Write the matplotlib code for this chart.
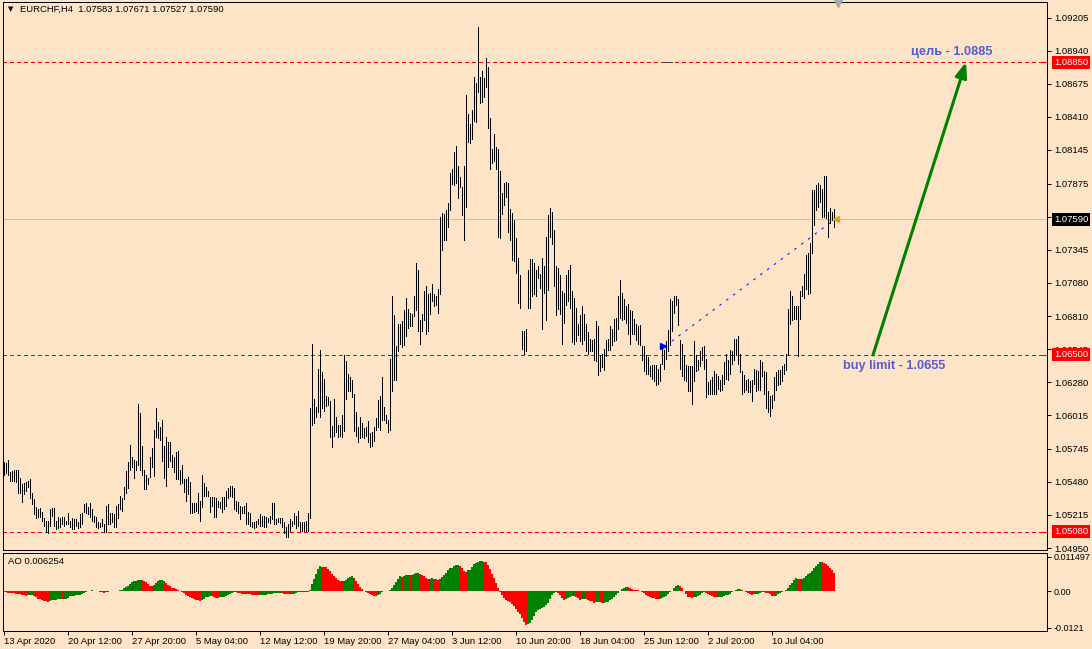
import numpy as np
import pandas as pd
import matplotlib
matplotlib.use('Agg')
import matplotlib.pyplot as plt
import matplotlib.transforms as mtransforms

plt.rcParams['font.family'] = ['Liberation Sans', 'DejaVu Sans']

symbol_line = 'EURCHF,H4  1.07583 1.07671 1.07527 1.07590'
ao_caption = 'AO 0.006254'

# H4 bar highs / lows in pips (price * 10000)
high_pips = [
    10564, 10563, 10566, 10556, 10557, 10558, 10558, 10558, 10551, 10546,
    10547, 10548, 10549, 10550, 10539, 10534, 10528, 10526, 10527, 10524,
    10519, 10517, 10517, 10526, 10527, 10527, 10517, 10520, 10519, 10520,
    10520, 10517, 10523, 10517, 10519, 10518, 10518, 10516, 10522, 10523,
    10530, 10531, 10528, 10531, 10526, 10521, 10520, 10516, 10515, 10518,
    10514, 10529, 10530, 10523, 10523, 10522, 10529, 10530, 10537, 10535,
    10544, 10557, 10564, 10578, 10568, 10566, 10565, 10611, 10603, 10577,
    10558, 10554, 10551, 10568, 10575, 10590, 10607, 10596, 10592, 10598,
    10577, 10584, 10580, 10580, 10570, 10568, 10572, 10573, 10558, 10562,
    10550, 10550, 10552, 10548, 10531, 10531, 10531, 10539, 10533, 10554,
    10547, 10544, 10541, 10536, 10536, 10536, 10535, 10533, 10532, 10536,
    10536, 10541, 10543, 10545, 10545, 10543, 10533, 10532, 10529, 10528,
    10529, 10531, 10524, 10523, 10516, 10516, 10517, 10518, 10522, 10521,
    10521, 10520, 10519, 10521, 10531, 10531, 10518, 10519, 10519, 10519,
    10516, 10512, 10514, 10518, 10517, 10523, 10521, 10525, 10516, 10516,
    10516, 10517, 10523, 10607, 10659, 10615, 10608, 10639, 10654, 10636,
    10631, 10617, 10616, 10613, 10593, 10615, 10600, 10594, 10594, 10602,
    10650, 10645, 10635, 10632, 10630, 10619, 10604, 10592, 10600, 10595,
    10591, 10592, 10597, 10587, 10588, 10592, 10599, 10614, 10617, 10632,
    10608, 10602, 10598, 10647, 10697, 10682, 10657, 10675, 10675, 10677,
    10686, 10696, 10687, 10684, 10683, 10697, 10724, 10718, 10678, 10683,
    10701, 10705, 10699, 10700, 10707, 10699, 10697, 10703, 10761, 10764,
    10763, 10766, 10772, 10796, 10799, 10813, 10818, 10802, 10793, 10785,
    10802, 10859, 10843, 10835, 10847, 10873, 10868, 10913, 10873, 10878,
    10872, 10888, 10881, 10840, 10815, 10827, 10817, 10815, 10798, 10780,
    10788, 10789, 10788, 10767, 10764, 10758, 10744, 10728, 10714, 10669,
    10669, 10671, 10718, 10727, 10727, 10724, 10718, 10721, 10715, 10728,
    10721, 10745, 10762, 10768, 10765, 10750, 10721, 10720, 10714, 10701,
    10700, 10714, 10718, 10722, 10701, 10696, 10688, 10675, 10682, 10689,
    10683, 10675, 10668, 10663, 10662, 10663, 10677, 10673, 10650, 10651,
    10655, 10662, 10663, 10673, 10671, 10679, 10680, 10697, 10710, 10700,
    10695, 10689, 10691, 10686, 10685, 10679, 10675, 10673, 10674, 10657,
    10657, 10650, 10648, 10641, 10642, 10642, 10642, 10639, 10643, 10657,
    10654, 10661, 10670, 10695, 10693, 10697, 10697, 10695, 10662, 10659,
    10650, 10642, 10641, 10641, 10641, 10661, 10650, 10646, 10653, 10656,
    10657, 10647, 10628, 10630, 10632, 10637, 10635, 10633, 10630, 10634,
    10644, 10651, 10646, 10654, 10653, 10663, 10663, 10665, 10651, 10637,
    10634, 10630, 10631, 10629, 10630, 10639, 10638, 10637, 10646, 10644,
    10637, 10636, 10621, 10617, 10618, 10632, 10636, 10638, 10638, 10641,
    10643, 10651, 10687, 10701, 10697, 10689, 10689, 10689, 10701, 10705,
    10715, 10730, 10732, 10740, 10782, 10782, 10786, 10788, 10786, 10783,
    10794, 10794, 10765, 10768, 10765, 10767,
]
low_pips = [
    10554, 10555, 10554, 10549, 10549, 10549, 10548, 10539, 10539, 10532,
    10538, 10541, 10544, 10535, 10530, 10522, 10519, 10520, 10520, 10517,
    10513, 10508, 10507, 10513, 10521, 10513, 10510, 10511, 10512, 10514,
    10513, 10514, 10514, 10512, 10510, 10510, 10513, 10511, 10512, 10514,
    10524, 10523, 10522, 10520, 10517, 10516, 10512, 10511, 10512, 10513,
    10508, 10508, 10514, 10514, 10516, 10512, 10512, 10519, 10526, 10525,
    10534, 10539, 10543, 10558, 10560, 10551, 10558, 10562, 10558, 10554,
    10542, 10542, 10546, 10552, 10560, 10553, 10584, 10583, 10582, 10565,
    10551, 10545, 10560, 10565, 10560, 10556, 10550, 10550, 10546, 10547,
    10540, 10533, 10538, 10523, 10523, 10524, 10525, 10523, 10517, 10528,
    10537, 10537, 10537, 10524, 10529, 10520, 10520, 10528, 10527, 10524,
    10526, 10529, 10535, 10537, 10536, 10526, 10525, 10523, 10518, 10523,
    10523, 10514, 10514, 10513, 10512, 10511, 10512, 10514, 10513, 10513,
    10512, 10512, 10516, 10515, 10518, 10514, 10514, 10516, 10515, 10512,
    10507, 10504, 10504, 10509, 10513, 10514, 10511, 10513, 10509, 10509,
    10509, 10509, 10509, 10519, 10594, 10595, 10600, 10604, 10600, 10607,
    10605, 10609, 10610, 10584, 10576, 10585, 10588, 10584, 10585, 10584,
    10589, 10615, 10621, 10621, 10616, 10589, 10585, 10580, 10583, 10584,
    10583, 10585, 10580, 10576, 10577, 10581, 10590, 10592, 10590, 10598,
    10598, 10595, 10588, 10590, 10621, 10630, 10630, 10653, 10659, 10656,
    10658, 10665, 10672, 10673, 10673, 10681, 10686, 10669, 10659, 10669,
    10678, 10667, 10669, 10683, 10693, 10689, 10690, 10684, 10699, 10734,
    10742, 10742, 10753, 10766, 10787, 10786, 10788, 10776, 10785, 10762,
    10742, 10769, 10821, 10820, 10823, 10838, 10837, 10861, 10852, 10853,
    10857, 10865, 10832, 10799, 10804, 10806, 10799, 10745, 10744, 10763,
    10770, 10777, 10749, 10742, 10726, 10725, 10716, 10692, 10688, 10655,
    10651, 10653, 10688, 10688, 10697, 10699, 10697, 10712, 10704, 10671,
    10700, 10678, 10702, 10745, 10739, 10705, 10682, 10687, 10683, 10659,
    10676, 10690, 10693, 10688, 10660, 10659, 10661, 10666, 10661, 10659,
    10662, 10653, 10651, 10653, 10653, 10646, 10645, 10634, 10637, 10640,
    10638, 10649, 10654, 10654, 10658, 10661, 10662, 10671, 10680, 10678,
    10679, 10676, 10667, 10659, 10667, 10667, 10662, 10659, 10658, 10646,
    10637, 10635, 10635, 10633, 10631, 10629, 10626, 10627, 10629, 10643,
    10639, 10647, 10653, 10658, 10669, 10684, 10690, 10674, 10639, 10633,
    10630, 10629, 10621, 10621, 10611, 10629, 10637, 10638, 10641, 10646,
    10639, 10616, 10619, 10619, 10619, 10619, 10619, 10623, 10621, 10622,
    10627, 10631, 10630, 10635, 10643, 10646, 10650, 10643, 10636, 10619,
    10620, 10622, 10620, 10620, 10613, 10627, 10621, 10622, 10622, 10633,
    10619, 10607, 10604, 10601, 10607, 10614, 10622, 10626, 10627, 10629,
    10635, 10638, 10650, 10675, 10678, 10679, 10679, 10649, 10679, 10697,
    10696, 10703, 10699, 10700, 10732, 10754, 10766, 10769, 10773, 10761,
    10761, 10760, 10745, 10756, 10758, 10753,
]
# AO of the first 33 bars (their 34-bar history lies left of the window)
ao_first = [
    -0.0003, -0.0003, -0.0004, -0.0005, -0.0006, -0.0007, -0.0008, -0.0009, -0.0010, -0.0011,
    -0.0012, -0.0014, -0.00135, -0.0013, -0.00125, -0.0016, -0.0020, -0.0024, -0.0027, -0.0029,
    -0.0031, -0.0033, -0.0035, -0.0033, -0.0030, -0.0029, -0.0028, -0.0027, -0.0026, -0.0027,
    -0.0025, -0.0024, -0.0023,
]

date_ticks = [0, 32, 64, 96, 128, 160, 192, 224, 256, 288, 320, 352, 384]
date_labels = ['13 Apr 2020', '20 Apr 12:00', '27 Apr 20:00', '5 May 04:00', '12 May 12:00',
               '19 May 20:00', '27 May 04:00', '3 Jun 12:00', '10 Jun 20:00', '18 Jun 04:00',
               '25 Jun 12:00', '2 Jul 20:00', '10 Jul 04:00']
price_ticks = [1.09205, 1.08940, 1.08675, 1.08410, 1.08145, 1.07875, 1.07610, 1.07345, 1.07080,
               1.06810, 1.06545, 1.06280, 1.06015, 1.05745, 1.05480, 1.05215, 1.04950]
ao_ticks = [0.011497, 0.0, -0.0121]
ao_tick_labels = ['0.011497', '0.00', '-0.0121']

target_level = 1.0885
buy_level = 1.0650
support_level = 1.0508
bid_level = 1.0759
trend_x = [330.5, 413]
trend_y = [1.0657, 1.0756]
arrow_x = [434.5, 481]
arrow_y = [1.0650, 1.0885]

bg = '#FEE4C6'
W, H = 1092, 649
PX = 0.72  # one pixel in points at dpi 100

hi = np.array(high_pips) / 10000
lo = np.array(low_pips) / 10000
n = min(len(hi), len(lo))
hi, lo = hi[:n], lo[:n]
x = np.arange(n)

# Awesome Oscillator: SMA5 - SMA34 of median price
med = pd.Series((hi + lo) / 2)
ao = (med.rolling(5).mean() - med.rolling(34).mean()).to_numpy()
ao[:len(ao_first)] = ao_first
colors = ['#FF0000'] + ['#008000' if ao[i] > ao[i - 1] else '#FF0000' for i in range(1, n)]

fig = plt.figure(figsize=(W / 100, H / 100), dpi=100, facecolor=bg)

# price window
ax = fig.add_axes([2.5 / W, 1 - 550 / H, 1044.5 / W, 548 / H], facecolor=bg)
ax.vlines(x, lo, hi, colors='black', linewidth=PX, antialiased=False, zorder=3)
ax.set_xlim(-0.75, 521.5)
ax.set_ylim(1.04934, 1.09333)

ax.axhline(bid_level, color='#C0C0C0', lw=PX, zorder=1, antialiased=False)
for lv in [target_level, buy_level, support_level]:
    ax.axhline(lv, color='#FF0000', lw=PX, ls=(0, (4, 4)), zorder=2, antialiased=False)
ax.plot([330, 334], [target_level, target_level], color='#404040', lw=PX, zorder=2,
        antialiased=False)

ax.plot(trend_x, trend_y, color='#0000FF', lw=PX, ls=(0, (2.5, 6)), zorder=4)
ax.plot(trend_x[0] - 1, trend_y[0], marker='>', color='#0000FF', ms=4, zorder=5)
ax.plot(416, bid_level, marker='<', color='#DAA520', ms=4, zorder=5, clip_on=False)
ax.plot(417, 1.0933, marker='v', color='#A8A8A8', ms=7, zorder=5, clip_on=False)

ax.annotate('', xy=(arrow_x[1], arrow_y[1]), xytext=(arrow_x[0], arrow_y[0]),
            arrowprops=dict(arrowstyle='-|>,head_length=0.9,head_width=0.35', color='#008000',
                            lw=2.2, shrinkA=0, shrinkB=0))
ax.text(474, 1.0893, 'цель - 1.0885', color='#5A5AD2', fontsize=9.2, fontweight='bold',
        ha='center', va='center')
ax.text(419.5, 1.0641, 'buy limit - 1.0655', color='#5A5AD2', fontsize=9.2, fontweight='bold',
        ha='left', va='center')

ax.yaxis.tick_right()
ax.set_yticks(price_ticks)
ax.set_yticklabels([f'{t:.5f}' for t in price_ticks])
ax.tick_params(axis='y', length=3, width=PX, pad=2.5, labelsize=6.8)
ax.set_xticks([])
for s in ax.spines.values():
    s.set_linewidth(PX)

trans = mtransforms.blended_transform_factory(ax.transAxes, ax.transData)
for lv, fc in [(target_level, '#FF0000'), (buy_level, '#FF0000'),
               (support_level, '#FF0000'), (bid_level, '#000000')]:
    ax.text(1.0065, lv, f'{lv:.5f}', transform=trans, color='white', fontsize=6.8,
            ha='left', va='center', zorder=10,
            bbox=dict(boxstyle='square,pad=0.22', fc=fc, ec='none'))
    ax.plot(1.0 - 3 / 1044.5, lv, marker='_', color='#FF0000' if fc != '#000000' else '#C0C0C0',
            ms=3, mew=PX, transform=trans, clip_on=False, zorder=6)

# AO window
ax2 = fig.add_axes([2.5 / W, 1 - 630.5 / H, 1044.5 / W, 78 / H], facecolor=bg)
ax2.bar(x, ao, width=1.0, color=colors, linewidth=0, antialiased=False)
ax2.set_xlim(-0.75, 521.5)
ax2.set_ylim(-0.0130, 0.0129)
ax2.yaxis.tick_right()
ax2.set_yticks(ao_ticks)
ax2.set_yticklabels(ao_tick_labels)
ax2.tick_params(axis='y', length=3, width=PX, pad=1.5, labelsize=6.5)
ax2.set_xticks(date_ticks)
ax2.set_xticklabels(date_labels, ha='left')
ax2.tick_params(axis='x', length=3, width=PX, pad=2, labelsize=6.8)
for s in ax2.spines.values():
    s.set_linewidth(PX)

fig.text(8 / W, 1 - 562 / H, ao_caption, fontsize=6.8, va='center')
fig.text(8 / W, 1 - 9 / H, '▼', fontsize=5, va='center', family='DejaVu Sans')
fig.text(19.5 / W, 1 - 9 / H, symbol_line, fontsize=6.8, va='center')

fig.savefig('out.png', dpi=100, facecolor=bg)
